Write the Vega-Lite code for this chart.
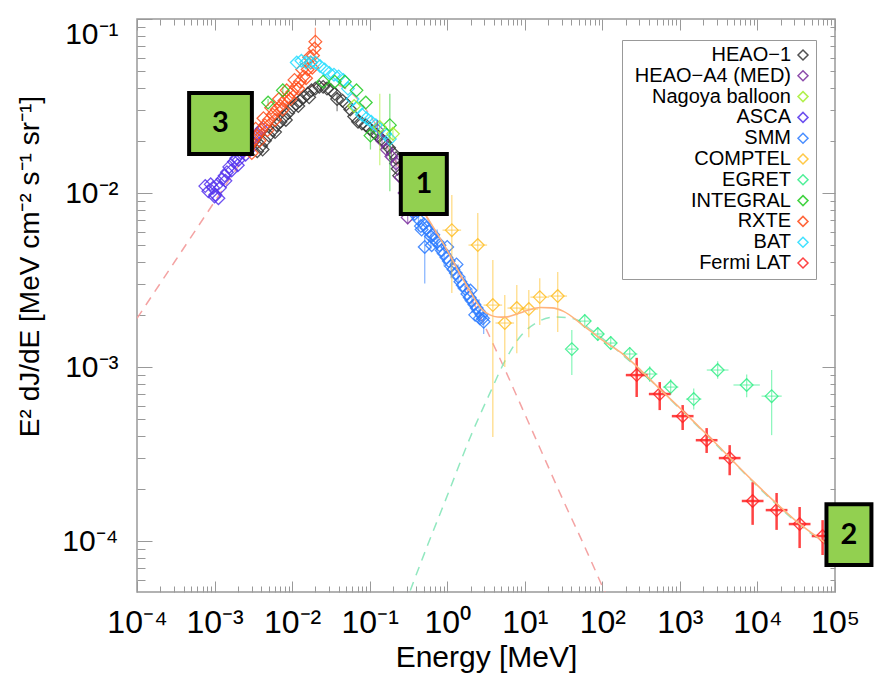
{
  "$schema": "https://vega.github.io/schema/vega-lite/v6.json",
  "width": 698,
  "height": 573,
  "autosize": {"type": "none"},
  "padding": {"left": 137, "top": 19, "right": 41, "bottom": 84},
  "background": "white",
  "config": {"view": {"stroke": "#999999", "strokeWidth": 1.5}, "font": "Liberation Sans"},
  "resolve": {"axis": {"x": "independent", "y": "independent"}},
  "datasets": {
    "pts": [
      {"inst":"ASCA","E":7.586e-4,"F":1.096e-2},{"inst":"ASCA","E":8.318e-4,"F":1.023e-2},{"inst":"ASCA","E":8.913e-4,"F":1.122e-2},{"inst":"ASCA","E":9.550e-4,"F":1.072e-2},{"inst":"ASCA","E":1.023e-3,"F":9.772e-3},{"inst":"ASCA","E":1.000e-3,"F":9.550e-3},{"inst":"ASCA","E":1.096e-3,"F":1.122e-2},{"inst":"ASCA","E":1.122e-3,"F":9.333e-3},{"inst":"ASCA","E":1.175e-3,"F":1.072e-2},{"inst":"ASCA","E":1.259e-3,"F":1.202e-2},{"inst":"ASCA","E":1.349e-3,"F":1.259e-2},{"inst":"ASCA","E":1.380e-3,"F":1.175e-2},{"inst":"ASCA","E":1.445e-3,"F":1.318e-2},{"inst":"ASCA","E":1.549e-3,"F":1.413e-2},{"inst":"ASCA","E":1.660e-3,"F":1.349e-2},{"inst":"ASCA","E":1.778e-3,"F":1.514e-2},{"inst":"ASCA","E":1.905e-3,"F":1.585e-2},{"inst":"ASCA","E":1.995e-3,"F":1.445e-2},{"inst":"ASCA","E":2.042e-3,"F":1.549e-2},{"inst":"ASCA","E":2.188e-3,"F":1.698e-2},{"inst":"ASCA","E":2.344e-3,"F":1.738e-2},{"inst":"ASCA","E":2.512e-3,"F":1.660e-2},{"inst":"ASCA","E":2.692e-3,"F":1.862e-2},{"inst":"ASCA","E":2.818e-3,"F":1.778e-2},{"inst":"ASCA","E":2.884e-3,"F":1.995e-2},{"inst":"ASCA","E":3.090e-3,"F":1.950e-2},{"inst":"ASCA","E":3.311e-3,"F":2.089e-2},{"inst":"ASCA","E":3.548e-3,"F":2.188e-2},{"inst":"ASCA","E":3.802e-3,"F":2.239e-2},{"inst":"ASCA","E":4.074e-3,"F":2.344e-2},
      {"inst":"HEAO−1","E":3.548e-3,"F":1.738e-2},{"inst":"HEAO−1","E":3.981e-3,"F":1.862e-2},{"inst":"HEAO−1","E":4.169e-3,"F":1.778e-2},{"inst":"HEAO−1","E":4.467e-3,"F":1.995e-2},{"inst":"HEAO−1","E":5.012e-3,"F":2.138e-2},{"inst":"HEAO−1","E":5.623e-3,"F":2.291e-2},{"inst":"HEAO−1","E":6.026e-3,"F":2.239e-2},{"inst":"HEAO−1","E":6.310e-3,"F":2.455e-2},{"inst":"HEAO−1","E":7.079e-3,"F":2.570e-2},{"inst":"HEAO−1","E":7.943e-3,"F":2.754e-2},{"inst":"HEAO−1","E":8.318e-3,"F":2.630e-2},{"inst":"HEAO−1","E":8.913e-3,"F":2.884e-2},{"inst":"HEAO−1","E":1.000e-2,"F":3.090e-2},{"inst":"HEAO−1","E":1.122e-2,"F":3.236e-2},{"inst":"HEAO−1","E":1.202e-2,"F":3.162e-2},{"inst":"HEAO−1","E":1.259e-2,"F":3.388e-2},{"inst":"HEAO−1","E":1.413e-2,"F":3.548e-2},{"inst":"HEAO−1","E":1.585e-2,"F":3.715e-2},{"inst":"HEAO−1","E":1.660e-2,"F":3.548e-2},{"inst":"HEAO−1","E":1.778e-2,"F":3.890e-2},{"inst":"HEAO−1","E":1.995e-2,"F":3.981e-2},{"inst":"HEAO−1","E":2.239e-2,"F":4.074e-2},{"inst":"HEAO−1","E":2.512e-2,"F":4.074e-2},{"inst":"HEAO−1","E":2.818e-2,"F":3.981e-2},{"inst":"HEAO−1","E":3.162e-2,"F":3.890e-2},{"inst":"HEAO−1","E":3.548e-2,"F":3.715e-2},{"inst":"HEAO−1","E":3.802e-2,"F":3.467e-2,"Flo":2.951e-2,"Fhi":3.802e-2},{"inst":"HEAO−1","E":4.467e-2,"F":3.388e-2},{"inst":"HEAO−1","E":5.012e-2,"F":3.236e-2},{"inst":"HEAO−1","E":5.623e-2,"F":3.020e-2},{"inst":"HEAO−1","E":6.310e-2,"F":2.754e-2},{"inst":"HEAO−1","E":7.079e-2,"F":2.570e-2},{"inst":"HEAO−1","E":7.943e-2,"F":2.512e-2},{"inst":"HEAO−1","E":8.913e-2,"F":2.455e-2},{"inst":"HEAO−1","E":0.1,"F":2.344e-2},{"inst":"HEAO−1","E":0.1122,"F":2.239e-2},{"inst":"HEAO−1","E":0.1259,"F":2.138e-2},{"inst":"HEAO−1","E":0.1413,"F":2.042e-2},{"inst":"HEAO−1","E":0.1585,"F":1.950e-2},{"inst":"HEAO−1","E":0.1778,"F":1.820e-2},{"inst":"HEAO−1","E":0.1995,"F":1.698e-2},{"inst":"HEAO−1","E":0.2188,"F":1.585e-2},{"inst":"HEAO−1","E":0.2291,"F":1.380e-2},{"inst":"HEAO−1","E":0.2399,"F":1.259e-2},
      {"inst":"RXTE","E":2.818e-3,"F":1.862e-2},{"inst":"RXTE","E":3.162e-3,"F":1.995e-2},{"inst":"RXTE","E":3.548e-3,"F":2.138e-2},{"inst":"RXTE","E":3.981e-3,"F":2.291e-2},{"inst":"RXTE","E":4.467e-3,"F":2.455e-2},{"inst":"RXTE","E":5.012e-3,"F":2.630e-2},{"inst":"RXTE","E":5.623e-3,"F":2.818e-2},{"inst":"RXTE","E":6.310e-3,"F":3.020e-2},{"inst":"RXTE","E":7.079e-3,"F":3.162e-2},{"inst":"RXTE","E":7.943e-3,"F":3.388e-2},{"inst":"RXTE","E":8.913e-3,"F":3.548e-2},{"inst":"RXTE","E":1.000e-2,"F":3.802e-2},{"inst":"RXTE","E":1.122e-2,"F":4.074e-2},{"inst":"RXTE","E":1.259e-2,"F":4.365e-2},{"inst":"RXTE","E":1.413e-2,"F":4.677e-2},{"inst":"RXTE","E":1.585e-2,"F":5.129e-2},{"inst":"RXTE","E":1.738e-2,"F":5.623e-2},{"inst":"RXTE","E":1.862e-2,"F":6.166e-2},{"inst":"RXTE","E":1.950e-2,"F":6.761e-2},{"inst":"RXTE","E":1.995e-2,"F":7.413e-2,"Flo":6.310e-2,"Fhi":8.913e-2},
      {"inst":"RXTE","E":3.020e-3,"F":1.698e-2},{"inst":"RXTE","E":3.802e-3,"F":1.995e-2},{"inst":"RXTE","E":4.786e-3,"F":2.291e-2},{"inst":"RXTE","E":6.026e-3,"F":2.630e-2},{"inst":"RXTE","E":7.586e-3,"F":3.020e-2},{"inst":"RXTE","E":9.550e-3,"F":3.467e-2},{"inst":"RXTE","E":1.202e-2,"F":3.981e-2},{"inst":"RXTE","E":1.514e-2,"F":4.571e-2},{"inst":"RXTE","E":1.820e-2,"F":5.248e-2},
      {"inst":"RXTE","E":3.388e-3,"F":2.344e-2},{"inst":"RXTE","E":4.266e-3,"F":2.692e-2},{"inst":"RXTE","E":5.370e-3,"F":3.090e-2},{"inst":"RXTE","E":6.761e-3,"F":3.467e-2},{"inst":"RXTE","E":8.511e-3,"F":3.890e-2},{"inst":"RXTE","E":1.072e-2,"F":4.467e-2},{"inst":"RXTE","E":1.349e-2,"F":5.129e-2},{"inst":"RXTE","E":1.660e-2,"F":6.026e-2},
      {"inst":"HEAO−A4 (MED)","E":0.1259,"F":2.291e-2,"Flo":1.995e-2,"Fhi":2.630e-2},{"inst":"HEAO−A4 (MED)","E":0.1445,"F":1.995e-2,"Flo":1.778e-2,"Fhi":2.239e-2},{"inst":"HEAO−A4 (MED)","E":0.1660,"F":1.778e-2,"Flo":1.585e-2,"Fhi":1.995e-2},{"inst":"HEAO−A4 (MED)","E":0.1905,"F":1.622e-2,"Flo":1.445e-2,"Fhi":1.820e-2},{"inst":"HEAO−A4 (MED)","E":0.2188,"F":1.479e-2,"Flo":1.318e-2,"Fhi":1.660e-2},{"inst":"HEAO−A4 (MED)","E":0.2512,"F":1.230e-2,"Flo":1.096e-2,"Fhi":1.380e-2},{"inst":"HEAO−A4 (MED)","E":0.2818,"F":1.000e-2,"Flo":8.913e-3,"Fhi":1.122e-2},{"inst":"HEAO−A4 (MED)","E":0.3090,"F":7.244e-3,"Flo":6.607e-3,"Fhi":7.762e-3},
      {"inst":"BAT","E":1.148e-2,"F":5.623e-2},{"inst":"BAT","E":1.318e-2,"F":5.754e-2},{"inst":"BAT","E":1.514e-2,"F":5.623e-2},{"inst":"BAT","E":1.738e-2,"F":5.623e-2},{"inst":"BAT","E":1.995e-2,"F":5.623e-2},{"inst":"BAT","E":2.291e-2,"F":5.370e-2},{"inst":"BAT","E":2.630e-2,"F":5.129e-2},{"inst":"BAT","E":3.020e-2,"F":4.898e-2},{"inst":"BAT","E":3.467e-2,"F":4.786e-2},{"inst":"BAT","E":3.981e-2,"F":4.677e-2},{"inst":"BAT","E":4.571e-2,"F":4.467e-2},{"inst":"BAT","E":5.248e-2,"F":3.981e-2},{"inst":"BAT","E":6.026e-2,"F":3.467e-2},{"inst":"BAT","E":6.918e-2,"F":3.090e-2},{"inst":"BAT","E":7.943e-2,"F":2.818e-2},{"inst":"BAT","E":9.120e-2,"F":2.692e-2},{"inst":"BAT","E":0.1047,"F":2.570e-2},{"inst":"BAT","E":0.1202,"F":2.455e-2},{"inst":"BAT","E":0.1380,"F":2.344e-2},{"inst":"BAT","E":0.1585,"F":2.188e-2},{"inst":"BAT","E":0.1820,"F":2.042e-2},
      {"inst":"INTEGRAL","E":4.898e-3,"F":3.311e-2,"Flo":3.162e-2,"Fhi":3.467e-2},{"inst":"INTEGRAL","E":7.586e-3,"F":3.890e-2,"Flo":3.715e-2,"Fhi":4.074e-2},{"inst":"INTEGRAL","E":2.512e-2,"F":4.365e-2},{"inst":"INTEGRAL","E":3.548e-2,"F":4.365e-2},{"inst":"INTEGRAL","E":4.786e-2,"F":4.365e-2},{"inst":"INTEGRAL","E":6.761e-2,"F":3.890e-2},{"inst":"INTEGRAL","E":8.913e-2,"F":3.311e-2},{"inst":"INTEGRAL","E":0.1023,"F":2.138e-2,"Flo":1.778e-2,"Fhi":2.344e-2},{"inst":"INTEGRAL","E":0.1820,"F":2.455e-2,"Flo":1.023e-2,"Fhi":3.715e-2},
      {"inst":"Nagoya balloon","E":6.310e-2,"F":3.162e-2},{"inst":"Nagoya balloon","E":0.1349,"F":2.399e-2,"Flo":1.445e-2,"Fhi":3.715e-2},{"inst":"Nagoya balloon","E":0.1995,"F":2.188e-2,"Flo":1.995e-2,"Fhi":2.399e-2},
      {"inst":"SMM","E":0.3548,"F":8.318e-3,"Flo":7.079e-3,"Fhi":9.772e-3},{"inst":"SMM","E":0.3802,"F":7.586e-3},{"inst":"SMM","E":0.3981,"F":7.943e-3},{"inst":"SMM","E":0.4266,"F":7.079e-3,"Flo":6.026e-3,"Fhi":8.318e-3},{"inst":"SMM","E":0.4571,"F":6.457e-3},{"inst":"SMM","E":0.4677,"F":6.166e-3},{"inst":"SMM","E":0.5012,"F":6.607e-3},{"inst":"SMM","E":0.5129,"F":4.898e-3,"Flo":3.020e-3,"Fhi":5.754e-3},{"inst":"SMM","E":0.5370,"F":6.310e-3},{"inst":"SMM","E":0.5754,"F":6.026e-3},{"inst":"SMM","E":0.6166,"F":5.623e-3,"Flo":4.786e-3,"Fhi":6.607e-3},{"inst":"SMM","E":0.6310,"F":5.012e-3},{"inst":"SMM","E":0.6607,"F":5.754e-3},{"inst":"SMM","E":0.6918,"F":5.370e-3},{"inst":"SMM","E":0.7413,"F":5.248e-3,"Flo":4.467e-3,"Fhi":6.166e-3},{"inst":"SMM","E":0.7943,"F":5.012e-3},{"inst":"SMM","E":0.8511,"F":4.677e-3},{"inst":"SMM","E":0.9120,"F":4.467e-3,"Flo":3.802e-3,"Fhi":5.248e-3},{"inst":"SMM","E":0.9772,"F":4.266e-3},{"inst":"SMM","E":1.0,"F":4.898e-3},{"inst":"SMM","E":1.047,"F":4.074e-3},{"inst":"SMM","E":1.122,"F":3.802e-3,"Flo":3.236e-3,"Fhi":4.467e-3},{"inst":"SMM","E":1.202,"F":3.631e-3},{"inst":"SMM","E":1.288,"F":3.467e-3},{"inst":"SMM","E":1.318,"F":3.890e-3},{"inst":"SMM","E":1.380,"F":3.311e-3,"Flo":2.818e-3,"Fhi":3.890e-3},{"inst":"SMM","E":1.479,"F":3.090e-3},{"inst":"SMM","E":1.585,"F":2.951e-3},{"inst":"SMM","E":1.698,"F":2.818e-3,"Flo":2.399e-3,"Fhi":3.311e-3},{"inst":"SMM","E":1.820,"F":2.630e-3},{"inst":"SMM","E":1.950,"F":2.512e-3},{"inst":"SMM","E":1.995,"F":2.754e-3},{"inst":"SMM","E":2.089,"F":2.399e-3,"Flo":2.042e-3,"Fhi":2.818e-3},{"inst":"SMM","E":2.239,"F":2.291e-3},{"inst":"SMM","E":2.291,"F":1.995e-3},{"inst":"SMM","E":2.399,"F":2.188e-3},{"inst":"SMM","E":2.570,"F":2.089e-3,"Flo":1.778e-3,"Fhi":2.455e-3},{"inst":"SMM","E":2.630,"F":1.905e-3},{"inst":"SMM","E":2.754,"F":1.995e-3},{"inst":"SMM","E":2.884,"F":1.905e-3},{"inst":"SMM","E":2.951,"F":1.820e-3,"Flo":1.549e-3,"Fhi":2.138e-3},
      {"inst":"COMPTEL","E":1.146,"F":6.12e-3,"Flo":2.661e-3,"Fhi":9.75e-3,"Elo":0.869,"Ehi":1.510},{"inst":"COMPTEL","E":2.477,"F":5.023e-3,"Flo":2.773e-3,"Fhi":7.674e-3,"Elo":1.879,"Ehi":3.266},{"inst":"COMPTEL","E":3.873,"F":2.27e-3,"Flo":3.963e-4,"Fhi":4.121e-3,"Elo":2.938,"Ehi":5.105},{"inst":"COMPTEL","E":5.521,"F":1.791e-3,"Flo":1.0e-3,"Fhi":2.594e-3,"Elo":4.188,"Ehi":7.278},{"inst":"COMPTEL","E":7.889,"F":2.183e-3,"Flo":1.202e-3,"Fhi":2.958e-3,"Elo":5.984,"Ehi":10.40},{"inst":"COMPTEL","E":11.27,"F":2.153e-3,"Flo":1.486e-3,"Fhi":2.773e-3,"Elo":8.551,"Ehi":14.86},{"inst":"COMPTEL","E":15.6,"F":2.523e-3,"Flo":1.742e-3,"Fhi":3.243e-3,"Elo":11.83,"Ehi":20.56},{"inst":"COMPTEL","E":26.6,"F":2.559e-3,"Flo":1.589e-3,"Fhi":3.516e-3,"Elo":20.18,"Ehi":35.08},
      {"inst":"EGRET","E":40.4,"F":1.268e-3,"Flo":8.99e-4,"Fhi":1.633e-3,"Elo":35.2,"Ehi":46.3},{"inst":"EGRET","E":59.3,"F":1.837e-3,"Flo":1.675e-3,"Fhi":2.014e-3,"Elo":49.3,"Ehi":71.3},{"inst":"EGRET","E":87.3,"F":1.549e-3,"Flo":1.413e-3,"Fhi":1.698e-3,"Elo":72.6,"Ehi":105},{"inst":"EGRET","E":128.2,"F":1.374e-3,"Flo":1.253e-3,"Fhi":1.507e-3,"Elo":106.7,"Ehi":154.2},{"inst":"EGRET","E":225.4,"F":1.189e-3,"Flo":1.084e-3,"Fhi":1.303e-3,"Elo":179,"Ehi":283.8},{"inst":"EGRET","E":408.3,"F":9.12e-4,"Flo":8.22e-4,"Fhi":1.012e-3,"Elo":324.3,"Ehi":514},{"inst":"EGRET","E":760.3,"F":7.674e-4,"Flo":6.92e-4,"Fhi":8.51e-4,"Elo":604,"Ehi":957},{"inst":"EGRET","E":1507,"F":6.546e-4,"Flo":5.70e-4,"Fhi":7.52e-4,"Elo":1197,"Ehi":1897},{"inst":"EGRET","E":3069,"F":9.616e-4,"Flo":8.57e-4,"Fhi":1.079e-3,"Elo":2223,"Ehi":4236},{"inst":"EGRET","E":7261,"F":7.889e-4,"Flo":6.714e-4,"Fhi":9.057e-4,"Elo":4909,"Ehi":10740},{"inst":"EGRET","E":15240,"F":6.808e-4,"Flo":4.064e-4,"Fhi":9.62e-4,"Elo":11300,"Ehi":20560},
      {"inst":"Fermi LAT","E":277.3,"F":8.995e-4,"Flo":6.73e-4,"Fhi":1.13e-3,"Elo":200.9,"Ehi":382.8},{"inst":"Fermi LAT","E":549.5,"F":7.0e-4,"Flo":5.66e-4,"Fhi":8.20e-4,"Elo":398.1,"Ehi":758.6},{"inst":"Fermi LAT","E":1086,"F":5.224e-4,"Flo":4.35e-4,"Fhi":6.05e-4,"Elo":787,"Ehi":1500},{"inst":"Fermi LAT","E":2213,"F":3.80e-4,"Flo":3.21e-4,"Fhi":4.46e-4,"Elo":1603,"Ehi":3055},{"inst":"Fermi LAT","E":4385,"F":3.0e-4,"Flo":2.39e-4,"Fhi":3.56e-4,"Elo":3177,"Ehi":6053},{"inst":"Fermi LAT","E":8670,"F":1.70e-4,"Flo":1.24e-4,"Fhi":2.18e-4,"Elo":6281,"Ehi":11970},{"inst":"Fermi LAT","E":17660,"F":1.507e-4,"Flo":1.16e-4,"Fhi":1.89e-4,"Elo":12790,"Ehi":24380},{"inst":"Fermi LAT","E":34990,"F":1.253e-4,"Flo":9.12e-5,"Fhi":1.57e-4,"Elo":25350,"Ehi":48310},{"inst":"Fermi LAT","E":69180,"F":1.069e-4,"Flo":8.32e-5,"Fhi":1.32e-4,"Elo":50120,"Ehi":95500}
    ],
    "lines": [
      {"comp":"lo","E":1e-4,"F":1.905e-3},{"comp":"lo","E":3.162e-4,"F":4.121e-3},{"comp":"lo","E":1e-3,"F":8.913e-3},{"comp":"lo","E":3.162e-3,"F":1.905e-2},{"comp":"lo","E":5.623e-3,"F":2.692e-2},{"comp":"lo","E":1e-2,"F":3.548e-2},{"comp":"lo","E":1.778e-2,"F":4.121e-2},{"comp":"lo","E":3.162e-2,"F":4.266e-2},{"comp":"lo","E":5.623e-2,"F":3.802e-2},{"comp":"lo","E":0.1,"F":2.818e-2},{"comp":"lo","E":0.1778,"F":1.778e-2},{"comp":"lo","E":0.3162,"F":1.122e-2},{"comp":"lo","E":0.5623,"F":7.079e-3},{"comp":"lo","E":1,"F":4.571e-3},{"comp":"lo","E":1.778,"F":2.818e-3},{"comp":"lo","E":3.162,"F":1.660e-3},{"comp":"lo","E":5.623,"F":9.550e-4},{"comp":"lo","E":10,"F":5.370e-4},{"comp":"lo","E":17.78,"F":3.020e-4},{"comp":"lo","E":31.62,"F":1.698e-4},{"comp":"lo","E":56.23,"F":9.772e-5},{"comp":"lo","E":100,"F":5.495e-5},{"comp":"lo","E":125.9,"F":4.365e-5},
      {"comp":"hi","E":0.2818,"F":4.266e-5},{"comp":"hi","E":0.5623,"F":9.550e-5},{"comp":"hi","E":1,"F":1.820e-4},{"comp":"hi","E":1.995,"F":3.981e-4},{"comp":"hi","E":3.548,"F":7.079e-4},{"comp":"hi","E":5.623,"F":1.096e-3},{"comp":"hi","E":8.913,"F":1.514e-3},{"comp":"hi","E":14.13,"F":1.799e-3},{"comp":"hi","E":25.12,"F":1.941e-3},{"comp":"hi","E":44.67,"F":1.884e-3},{"comp":"hi","E":70.79,"F":1.641e-3},{"comp":"hi","E":125.9,"F":1.349e-3},{"comp":"hi","E":316.2,"F":9.441e-4},{"comp":"hi","E":1000,"F":5.754e-4},{"comp":"hi","E":3162,"F":3.467e-4},{"comp":"hi","E":10000,"F":2.065e-4},{"comp":"hi","E":31620,"F":1.288e-4},{"comp":"hi","E":100000,"F":8.810e-5},
      {"comp":"tot","E":0.5012,"F":7.762e-3},{"comp":"tot","E":1,"F":4.677e-3},{"comp":"tot","E":1.778,"F":2.951e-3},{"comp":"tot","E":2.818,"F":2.138e-3},{"comp":"tot","E":3.548,"F":1.995e-3},{"comp":"tot","E":4.467,"F":1.941e-3},{"comp":"tot","E":5.623,"F":1.936e-3},{"comp":"tot","E":7.943,"F":2.018e-3},{"comp":"tot","E":11.22,"F":2.128e-3},{"comp":"tot","E":15.85,"F":2.198e-3},{"comp":"tot","E":22.39,"F":2.188e-3},{"comp":"tot","E":31.62,"F":2.089e-3},{"comp":"tot","E":56.23,"F":1.738e-3},{"comp":"tot","E":100,"F":1.429e-3},{"comp":"tot","E":177.8,"F":1.202e-3},{"comp":"tot","E":316.2,"F":9.550e-4},{"comp":"tot","E":562.3,"F":7.413e-4},{"comp":"tot","E":1000,"F":5.821e-4},{"comp":"tot","E":1778,"F":4.519e-4},{"comp":"tot","E":3162,"F":3.508e-4},{"comp":"tot","E":5623,"F":2.692e-4},{"comp":"tot","E":10000,"F":2.089e-4},{"comp":"tot","E":17780,"F":1.641e-4},{"comp":"tot","E":31620,"F":1.303e-4},{"comp":"tot","E":56230,"F":1.072e-4},{"comp":"tot","E":100000,"F":8.913e-5}
    ],
    "boxes": [
      {"label":"3","x1":4.7e-4,"x2":3.03e-3,"y1":0.01675,"y2":0.0376,"xc":1.19e-3,"yc":0.0251},
      {"label":"1","x1":0.252,"x2":0.988,"y1":7.57e-3,"y2":0.01675,"xc":0.499,"yc":0.01126},
      {"label":"2","x1":7.76e4,"x2":2.95e5,"y1":7.28e-5,"y2":1.63e-4,"xc":1.51e5,"yc":1.09e-4}
    ]
  },
  "layer": [
    {
      "data": {"name": "lines"},
      "transform": [{"filter": "datum.comp === 'lo'"}],
      "mark": {"type": "line", "color": "#f4a3a3", "strokeWidth": 1.5, "strokeDash": [9, 7], "interpolate": "monotone", "clip": true},
      "encoding": {
        "x": {"field": "E", "type": "quantitative", "scale": {"type": "log", "domain": [0.0001, 100000], "nice": false},
          "axis": {"orient": "bottom", "values": [0.0001, 0.001, 0.01, 0.1, 1, 10, 100, 1000, 10000, 100000], "ticks": false, "tickSize": 0, "domain": false, "grid": false, "labelOverlap": false, "labelFlush": false,
            "labelExpr": "'10' + ['⁻⁴','⁻³','⁻²','⁻¹','⁰','¹','²','³','⁴','⁵'][round(log(datum.value)/LN10)+4]",
            "labelFont": "Liberation Sans", "labelFontSize": 32, "labelColor": "black", "labelPadding": 15,
            "title": "Energy [MeV]", "titleFont": "Liberation Sans", "titleFontSize": 30, "titleFontWeight": "normal", "titleColor": "black", "titleY": 74, "titleBaseline": "alphabetic"}},
        "y": {"field": "F", "type": "quantitative", "scale": {"type": "log", "domain": [0.000051, 0.1], "nice": false},
          "axis": {"orient": "left", "values": [0.0001, 0.001, 0.01, 0.1], "ticks": false, "tickSize": 0, "domain": false, "grid": false, "labelOverlap": false, "labelFlush": true,
            "labelExpr": "'10' + ['⁻⁴','⁻³','⁻²','⁻¹'][round(log(datum.value)/LN10)+4]",
            "labelFont": "Liberation Sans", "labelFontSize": 30, "labelColor": "black", "labelPadding": 19,
            "title": "E² dJ/dE [MeV cm⁻² s⁻¹ sr⁻¹]", "titleFont": "Liberation Sans", "titleFontSize": 28, "titleFontWeight": "normal", "titleColor": "black",
            "titleX": -107, "titleY": 247, "titleAngle": -90, "titleAlign": "center", "titleBaseline": "middle"}}
      }
    },
    {
      "data": {"name": "lines"},
      "transform": [{"filter": "datum.comp === 'hi'"}],
      "mark": {"type": "line", "color": "#92e8c0", "strokeWidth": 1.5, "strokeDash": [9, 7], "interpolate": "monotone", "clip": true},
      "encoding": {
        "x": {"field": "E", "type": "quantitative", "scale": {"type": "log", "domain": [0.0001, 100000], "nice": false}, "axis": null},
        "y": {"field": "F", "type": "quantitative", "scale": {"type": "log", "domain": [0.000051, 0.1], "nice": false}, "axis": null}
      }
    },
    {
      "data": {"name": "pts"},
      "mark": {"type": "point", "shape": "diamond", "filled": false, "size": 160, "strokeWidth": 1.3, "opacity": 0.85, "clip": true},
      "encoding": {
        "x": {"field": "E", "type": "quantitative", "scale": {"type": "log", "domain": [0.0001, 100000], "nice": false}, "axis": null},
        "y": {"field": "F", "type": "quantitative", "scale": {"type": "log", "domain": [0.000051, 0.1], "nice": false}, "axis": null},
        "color": {"field": "inst", "type": "nominal",
          "scale": {"domain": ["HEAO−1", "HEAO−A4 (MED)", "Nagoya balloon", "ASCA", "SMM", "COMPTEL", "EGRET", "INTEGRAL", "RXTE", "BAT", "Fermi LAT"],
            "range": ["#333333", "#7a2e9e", "#a6ef2e", "#5533ee", "#2b7bff", "#ffbf26", "#33ee88", "#22cc22", "#ff4d1a", "#22ddff", "#ff2222"]},
          "legend": {"title": null, "orient": "none", "legendX": 485, "legendY": 21, "padding": 5, "strokeColor": "#999999", "fillColor": "white",
            "labelFont": "Liberation Sans", "labelFontSize": 20, "labelColor": "black", "labelAlign": "right", "labelOffset": -22, "labelLimit": 300,
            "symbolType": "diamond", "symbolSize": 100, "symbolStrokeWidth": 1.5, "symbolOffset": 166, "rowPadding": 0.8}}
      }
    },
    {
      "data": {"name": "pts"},
      "transform": [{"filter": "datum.Flo != null"}],
      "mark": {"type": "rule", "clip": true},
      "encoding": {
        "x": {"field": "E", "type": "quantitative", "scale": {"type": "log", "domain": [0.0001, 100000], "nice": false}, "axis": null},
        "y": {"field": "Flo", "type": "quantitative", "scale": {"type": "log", "domain": [0.000051, 0.1], "nice": false}, "axis": null},
        "y2": {"field": "Fhi"},
        "color": {"field": "inst", "type": "nominal",
          "scale": {"domain": ["HEAO−1", "HEAO−A4 (MED)", "Nagoya balloon", "ASCA", "SMM", "COMPTEL", "EGRET", "INTEGRAL", "RXTE", "BAT", "Fermi LAT"],
            "range": ["#333333", "#7a2e9e", "#a6ef2e", "#5533ee", "#2b7bff", "#ffbf26", "#33ee88", "#22cc22", "#ff4d1a", "#22ddff", "#ff2222"]},
          "legend": {"title": null, "orient": "none", "legendX": 485, "legendY": 21, "padding": 5, "strokeColor": "#999999", "fillColor": "white",
            "labelFont": "Liberation Sans", "labelFontSize": 20, "labelColor": "black", "labelAlign": "right", "labelOffset": -22, "labelLimit": 300,
            "symbolType": "diamond", "symbolSize": 100, "symbolStrokeWidth": 1.5, "symbolOffset": 166, "rowPadding": 0.8}},
        "strokeWidth": {"condition": {"test": "datum.inst === 'Fermi LAT'", "value": 2.5}, "value": 1.3},
        "opacity": {"condition": {"test": "datum.inst === 'Fermi LAT'", "value": 0.85}, "value": 0.55}
      }
    },
    {
      "data": {"name": "pts"},
      "transform": [{"filter": "datum.Elo != null"}],
      "mark": {"type": "rule", "clip": true},
      "encoding": {
        "x": {"field": "Elo", "type": "quantitative", "scale": {"type": "log", "domain": [0.0001, 100000], "nice": false}, "axis": null},
        "x2": {"field": "Ehi"},
        "y": {"field": "F", "type": "quantitative", "scale": {"type": "log", "domain": [0.000051, 0.1], "nice": false}, "axis": null},
        "color": {"field": "inst", "type": "nominal",
          "scale": {"domain": ["HEAO−1", "HEAO−A4 (MED)", "Nagoya balloon", "ASCA", "SMM", "COMPTEL", "EGRET", "INTEGRAL", "RXTE", "BAT", "Fermi LAT"],
            "range": ["#333333", "#7a2e9e", "#a6ef2e", "#5533ee", "#2b7bff", "#ffbf26", "#33ee88", "#22cc22", "#ff4d1a", "#22ddff", "#ff2222"]},
          "legend": {"title": null, "orient": "none", "legendX": 485, "legendY": 21, "padding": 5, "strokeColor": "#999999", "fillColor": "white",
            "labelFont": "Liberation Sans", "labelFontSize": 20, "labelColor": "black", "labelAlign": "right", "labelOffset": -22, "labelLimit": 300,
            "symbolType": "diamond", "symbolSize": 100, "symbolStrokeWidth": 1.5, "symbolOffset": 166, "rowPadding": 0.8}},
        "strokeWidth": {"condition": {"test": "datum.inst === 'Fermi LAT'", "value": 2.5}, "value": 1.3},
        "opacity": {"condition": {"test": "datum.inst === 'Fermi LAT'", "value": 0.85}, "value": 0.55}
      }
    },
    {
      "data": {"name": "lines"},
      "transform": [{"filter": "datum.comp === 'tot'"}],
      "mark": {"type": "line", "color": "#ffb37d", "strokeWidth": 1.6, "interpolate": "monotone", "clip": true},
      "encoding": {
        "x": {"field": "E", "type": "quantitative", "scale": {"type": "log", "domain": [0.0001, 100000], "nice": false}, "axis": null},
        "y": {"field": "F", "type": "quantitative", "scale": {"type": "log", "domain": [0.000051, 0.1], "nice": false}, "axis": null}
      }
    },
    {
      "data": {"name": "lines"},
      "mark": {"type": "point", "opacity": 0},
      "encoding": {
        "x": {"field": "E", "type": "quantitative", "scale": {"type": "log", "domain": [0.0001, 100000], "nice": false},
          "axis": {"orient": "bottom", "values": [0.0001, 0.001, 0.01, 0.1, 1, 10, 100, 1000, 10000, 100000], "labels": false, "domain": false, "grid": false, "title": null, "ticks": true, "tickSize": -11, "tickColor": "#999999", "tickWidth": 1}},
        "y": {"field": "F", "type": "quantitative", "scale": {"type": "log", "domain": [0.000051, 0.1], "nice": false},
          "axis": {"orient": "left", "values": [0.0001, 0.001, 0.01, 0.1], "labels": false, "domain": false, "grid": false, "title": null, "ticks": true, "tickSize": -15, "tickColor": "#999999", "tickWidth": 1}}
      }
    },
    {
      "data": {"name": "lines"},
      "mark": {"type": "point", "opacity": 0},
      "encoding": {
        "x": {"field": "E", "type": "quantitative", "scale": {"type": "log", "domain": [0.0001, 100000], "nice": false},
          "axis": {"orient": "bottom", "values": [0.0002,0.0003,0.0004,0.0005,0.0006,0.0007,0.0008,0.0009,0.002,0.003,0.004,0.005,0.006,0.007,0.008,0.009,0.02,0.03,0.04,0.05,0.06,0.07,0.08,0.09,0.2,0.3,0.4,0.5,0.6,0.7,0.8,0.9,2,3,4,5,6,7,8,9,20,30,40,50,60,70,80,90,200,300,400,500,600,700,800,900,2000,3000,4000,5000,6000,7000,8000,9000,20000,30000,40000,50000,60000,70000,80000,90000], "labels": false, "domain": false, "grid": false, "title": null, "ticks": true, "tickSize": -6, "tickColor": "#999999", "tickWidth": 1}},
        "y": {"field": "F", "type": "quantitative", "scale": {"type": "log", "domain": [0.000051, 0.1], "nice": false},
          "axis": {"orient": "left", "values": [0.00006,0.00007,0.00008,0.00009,0.0002,0.0003,0.0004,0.0005,0.0006,0.0007,0.0008,0.0009,0.002,0.003,0.004,0.005,0.006,0.007,0.008,0.009,0.02,0.03,0.04,0.05,0.06,0.07,0.08,0.09], "labels": false, "domain": false, "grid": false, "title": null, "ticks": true, "tickSize": -8, "tickColor": "#999999", "tickWidth": 1}}
      }
    },
    {
      "data": {"name": "lines"},
      "mark": {"type": "point", "opacity": 0},
      "encoding": {
        "x": {"field": "E", "type": "quantitative", "scale": {"type": "log", "domain": [0.0001, 100000], "nice": false},
          "axis": {"orient": "top", "values": [0.0001, 0.001, 0.01, 0.1, 1, 10, 100, 1000, 10000, 100000], "labels": false, "domain": false, "grid": false, "title": null, "ticks": true, "tickSize": -11, "tickColor": "#999999", "tickWidth": 1}},
        "y": {"field": "F", "type": "quantitative", "scale": {"type": "log", "domain": [0.000051, 0.1], "nice": false},
          "axis": {"orient": "right", "values": [0.0001, 0.001, 0.01, 0.1], "labels": false, "domain": false, "grid": false, "title": null, "ticks": true, "tickSize": -13, "tickColor": "#999999", "tickWidth": 1}}
      }
    },
    {
      "data": {"name": "lines"},
      "mark": {"type": "point", "opacity": 0},
      "encoding": {
        "x": {"field": "E", "type": "quantitative", "scale": {"type": "log", "domain": [0.0001, 100000], "nice": false},
          "axis": {"orient": "top", "values": [0.0002,0.0003,0.0004,0.0005,0.0006,0.0007,0.0008,0.0009,0.002,0.003,0.004,0.005,0.006,0.007,0.008,0.009,0.02,0.03,0.04,0.05,0.06,0.07,0.08,0.09,0.2,0.3,0.4,0.5,0.6,0.7,0.8,0.9,2,3,4,5,6,7,8,9,20,30,40,50,60,70,80,90,200,300,400,500,600,700,800,900,2000,3000,4000,5000,6000,7000,8000,9000,20000,30000,40000,50000,60000,70000,80000,90000], "labels": false, "domain": false, "grid": false, "title": null, "ticks": true, "tickSize": -6, "tickColor": "#999999", "tickWidth": 1}},
        "y": {"field": "F", "type": "quantitative", "scale": {"type": "log", "domain": [0.000051, 0.1], "nice": false},
          "axis": {"orient": "right", "values": [0.00006,0.00007,0.00008,0.00009,0.0002,0.0003,0.0004,0.0005,0.0006,0.0007,0.0008,0.0009,0.002,0.003,0.004,0.005,0.006,0.007,0.008,0.009,0.02,0.03,0.04,0.05,0.06,0.07,0.08,0.09], "labels": false, "domain": false, "grid": false, "title": null, "ticks": true, "tickSize": -5, "tickColor": "#999999", "tickWidth": 1}}
      }
    },
    {
      "data": {"name": "boxes"},
      "mark": {"type": "rect", "fill": "#92d050", "stroke": "black", "strokeWidth": 4, "clip": false},
      "encoding": {
        "x": {"field": "x1", "type": "quantitative", "scale": {"type": "log", "domain": [0.0001, 100000], "nice": false}, "axis": null},
        "x2": {"field": "x2"},
        "y": {"field": "y1", "type": "quantitative", "scale": {"type": "log", "domain": [0.000051, 0.1], "nice": false}, "axis": null},
        "y2": {"field": "y2"}
      }
    },
    {
      "data": {"name": "boxes"},
      "mark": {"type": "text", "font": "Lato", "fontWeight": "bold", "fontSize": 29, "color": "black", "align": "center", "baseline": "middle", "clip": false},
      "encoding": {
        "x": {"field": "xc", "type": "quantitative", "scale": {"type": "log", "domain": [0.0001, 100000], "nice": false}, "axis": null},
        "y": {"field": "yc", "type": "quantitative", "scale": {"type": "log", "domain": [0.000051, 0.1], "nice": false}, "axis": null},
        "text": {"field": "label"}
      }
    }
  ]
}
